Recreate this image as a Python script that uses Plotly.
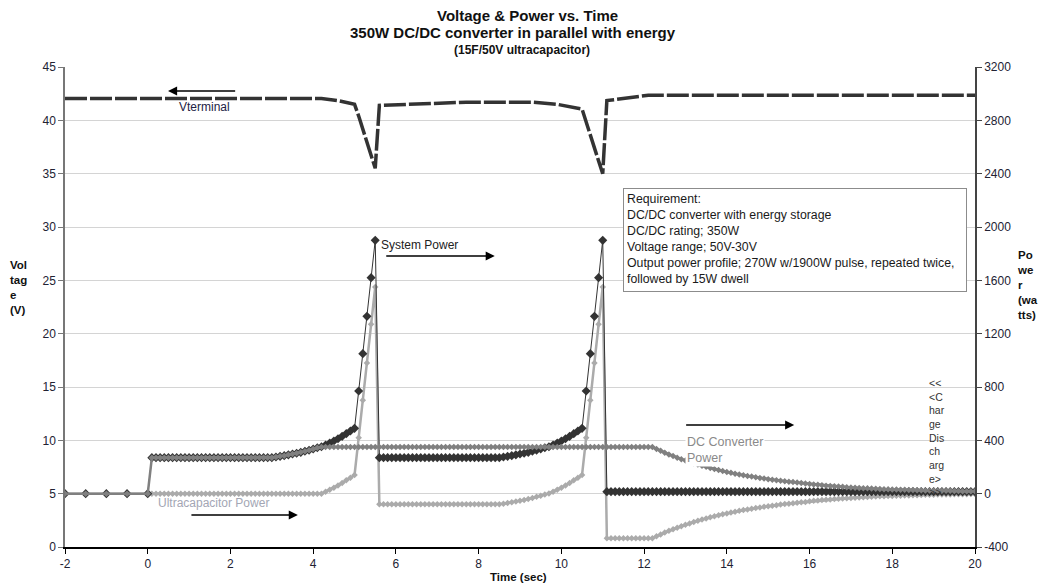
import plotly.graph_objects as go

# ---------------- data ----------------
TIME = [
    -2.0, -1.5, -1.0, -0.5,
    0.0, 0.1, 0.2, 0.3, 0.4, 0.5, 0.6, 0.7, 0.8, 0.9,
    1.0, 1.1, 1.2, 1.3, 1.4, 1.5, 1.6, 1.7, 1.8, 1.9,
    2.0, 2.1, 2.2, 2.3, 2.4, 2.5, 2.6, 2.7, 2.8, 2.9,
    3.0, 3.1, 3.2, 3.3, 3.4, 3.5, 3.6, 3.7, 3.8, 3.9,
    4.0, 4.1, 4.2, 4.3, 4.4, 4.5, 4.6, 4.7, 4.8, 4.9,
    5.0, 5.1, 5.2, 5.3, 5.4, 5.5, 5.6, 5.7, 5.8, 5.9,
    6.0, 6.1, 6.2, 6.3, 6.4, 6.5, 6.6, 6.7, 6.8, 6.9,
    7.0, 7.1, 7.2, 7.3, 7.4, 7.5, 7.6, 7.7, 7.8, 7.9,
    8.0, 8.1, 8.2, 8.3, 8.4, 8.5, 8.6, 8.7, 8.8, 8.9,
    9.0, 9.1, 9.2, 9.3, 9.4, 9.5, 9.6, 9.7, 9.8, 9.9,
    10.0, 10.1, 10.2, 10.3, 10.4, 10.5, 10.6, 10.7, 10.8, 10.9,
    11.0, 11.1, 11.2, 11.3, 11.4, 11.5, 11.6, 11.7, 11.8, 11.9,
    12.0, 12.1, 12.2, 12.3, 12.4, 12.5, 12.6, 12.7, 12.8, 12.9,
    13.0, 13.1, 13.2, 13.3, 13.4, 13.5, 13.6, 13.7, 13.8, 13.9,
    14.0, 14.1, 14.2, 14.3, 14.4, 14.5, 14.6, 14.7, 14.8, 14.9,
    15.0, 15.1, 15.2, 15.3, 15.4, 15.5, 15.6, 15.7, 15.8, 15.9,
    16.0, 16.1, 16.2, 16.3, 16.4, 16.5, 16.6, 16.7, 16.8, 16.9,
    17.0, 17.1, 17.2, 17.3, 17.4, 17.5, 17.6, 17.7, 17.8, 17.9,
    18.0, 18.1, 18.2, 18.3, 18.4, 18.5, 18.6, 18.7, 18.8, 18.9,
    19.0, 19.1, 19.2, 19.3, 19.4, 19.5, 19.6, 19.7, 19.8, 19.9,
    20.0,
]

SYSTEM_W = [
    0, 0, 0, 0,
    0, 270, 270, 270, 270, 270, 270, 270, 270, 270,
    270, 270, 270, 270, 270, 270, 270, 270, 270, 270,
    270, 270, 270, 270, 270, 270, 270, 270, 270, 270,
    270, 275, 280, 285, 291, 297, 303, 310, 318, 326,
    335, 344, 352, 365, 380, 395, 412, 430, 450, 470,
    490, 770, 1050, 1330, 1620, 1900, 270, 270, 270, 270,
    270, 270, 270, 270, 270, 270, 270, 270, 270, 270,
    270, 270, 270, 270, 270, 270, 270, 270, 270, 270,
    270, 270, 270, 270, 270, 270, 275, 280, 285, 291,
    297, 303, 310, 318, 326, 335, 344, 352, 365, 380,
    395, 412, 430, 450, 470, 490, 770, 1050, 1330, 1620,
    1900, 15, 15, 15, 15, 15, 15, 15, 15, 15,
    15, 15, 15, 15, 15, 15, 15, 15, 15, 15,
    15, 15, 15, 15, 15, 15, 15, 15, 15, 15,
    15, 15, 15, 15, 15, 15, 15, 15, 15, 15,
    15, 15, 15, 15, 15, 15, 15, 15, 15, 15,
    15, 15, 15, 15, 15, 15, 15, 15, 15, 15,
    15, 15, 15, 15, 15, 15, 15, 15, 15, 15,
    15, 15, 15, 15, 15, 15, 15, 15, 15, 15,
    15, 15, 15, 15, 15, 15, 15, 15, 15, 15,
    15,
]

DC_CONVERTER_W = [
    0, 0, 0, 0,
    0, 270, 270, 270, 270, 270, 270, 270, 270, 270,
    270, 270, 270, 270, 270, 270, 270, 270, 270, 270,
    270, 270, 270, 270, 270, 270, 270, 270, 270, 270,
    270, 275, 280, 285, 291, 297, 303, 310, 318, 326,
    335, 344, 350, 350, 350, 350, 350, 350, 350, 350,
    350, 350, 350, 350, 350, 350, 350, 350, 350, 350,
    350, 350, 350, 350, 350, 350, 350, 350, 350, 350,
    350, 350, 350, 350, 350, 350, 350, 350, 350, 350,
    350, 350, 350, 350, 350, 350, 350, 350, 350, 350,
    350, 350, 350, 350, 350, 350, 350, 350, 350, 350,
    350, 350, 350, 350, 350, 350, 350, 350, 350, 350,
    350, 350, 350, 350, 350, 350, 350, 350, 350, 350,
    350, 350, 350, 335, 321, 307, 294, 282, 270, 259,
    248, 238, 228, 218, 209, 201, 192, 185, 177, 170,
    163, 156, 150, 144, 138, 133, 128, 123, 118, 113,
    109, 105, 101, 97, 93, 90, 87, 83, 80, 77,
    72, 69, 66, 63, 60, 58, 55, 53, 51, 49,
    47, 45, 43, 41, 40, 38, 37, 35, 34, 33,
    32, 31, 30, 29, 28, 27, 26, 25, 24, 24,
    23, 22, 22, 21, 21, 20, 20, 19, 19, 18,
    18,
]

ULTRACAP_W = [
    0, 0, 0, 0,
    0, 0, 0, 0, 0, 0, 0, 0, 0, 0,
    0, 0, 0, 0, 0, 0, 0, 0, 0, 0,
    0, 0, 0, 0, 0, 0, 0, 0, 0, 0,
    0, 0, 0, 0, 0, 0, 0, 0, 0, 0,
    0, 0, 0, 15, 30, 45, 62, 80, 100, 120,
    140, 420, 700, 980, 1270, 1550, -80, -80, -80, -80,
    -80, -80, -80, -80, -80, -80, -80, -80, -80, -80,
    -80, -80, -80, -80, -80, -80, -80, -80, -80, -80,
    -80, -80, -80, -80, -80, -80, -75, -70, -65, -59,
    -53, -47, -40, -32, -24, -15, -6, 2, 15, 30,
    45, 62, 80, 100, 120, 140, 420, 700, 980, 1270,
    1550, -335, -335, -335, -335, -335, -335, -335, -335, -335,
    -335, -335, -335, -320, -306, -292, -279, -267, -255, -244,
    -233, -223, -213, -203, -194, -186, -177, -170, -162, -155,
    -148, -141, -135, -129, -123, -118, -113, -108, -103, -98,
    -94, -90, -86, -82, -78, -75, -72, -68, -65, -62,
    -57, -54, -51, -48, -45, -43, -40, -38, -36, -34,
    -32, -30, -28, -26, -25, -23, -22, -20, -19, -18,
    -17, -16, -15, -14, -13, -12, -11, -10, -9, -9,
    -8, -7, -7, -6, -6, -5, -5, -4, -4, -3,
    -3,
]

VT_TIME = [-2.0, 4.2, 4.6, 5.0, 5.1, 5.2, 5.3, 5.4, 5.5, 5.6, 6.5, 7.7, 9.3,
           9.9, 10.5, 10.6, 10.7, 10.8, 10.9, 11.0, 11.1, 12.1, 20.0]
VTERMINAL_V = [42.05, 42.05, 41.85, 41.5, 40.4, 39.2, 38.0, 36.8, 35.5, 41.4,
               41.55, 41.7, 41.7, 41.5, 41.05, 39.9, 38.7, 37.5, 36.2, 35.0,
               41.85, 42.35, 42.35]

VOLT_TICKS = [0, 5, 10, 15, 20, 25, 30, 35, 40, 45]
POWER_TICKS = [-400, 0, 400, 800, 1200, 1600, 2000, 2400, 2800, 3200]
POWER_TICK_TEXT = ["-400", "0", "400", "800", "1200", "1600", "2000", "2400", "2800", "3200"]
TIME_TICKS = [-2, 0, 2, 4, 6, 8, 10, 12, 14, 16, 18, 20]
TIME_TICK_TEXT = ["-2", "0", "2", "4", "6", "8", "10", "12", "14", "16", "18", "20"]

REQ_TEXT = ("Requirement:<br>DC/DC converter with energy storage<br>"
            "DC/DC rating; 350W<br>Voltage range; 50V-30V<br>"
            "Output power profile; 270W w/1900W pulse, repeated twice,<br>"
            "followed by 15W dwell")

FONT = "Liberation Sans, Arial, sans-serif"

# ---------------- figure ----------------
fig = go.Figure()

fig.add_trace(go.Scatter(
    x=VT_TIME, y=VTERMINAL_V, mode="lines", yaxis="y",
    line=dict(color="#333333", width=3.5, dash="22px,3px"), hoverinfo="skip"))

fig.add_trace(go.Scatter(
    x=TIME, y=ULTRACAP_W, mode="lines+markers", yaxis="y2",
    line=dict(color="#ababab", width=2.5),
    marker=dict(symbol="diamond", size=5, color="#ababab")))

fig.add_trace(go.Scatter(
    x=TIME, y=SYSTEM_W, mode="lines+markers", yaxis="y2",
    line=dict(color="#333333", width=1),
    marker=dict(symbol="diamond", size=7, color="#333333")))

fig.add_trace(go.Scatter(
    x=TIME, y=DC_CONVERTER_W, mode="lines+markers", yaxis="y2",
    line=dict(color="#808080", width=2.5),
    marker=dict(symbol="diamond", size=5, color="#808080")))

ann = []


def arrow(x_tail, x_head, yv):
    ann.append(dict(x=x_head, y=yv, ax=x_tail, ay=yv, xref="x", yref="y",
                    axref="x", ayref="y", text="", showarrow=True,
                    arrowhead=2, arrowsize=1.3, arrowwidth=1.4,
                    arrowcolor="#000000"))


arrow(2.15, 0.49, 42.75)
arrow(5.73, 8.39, 27.28)
arrow(1.02, 3.63, 3.0)
arrow(12.98, 15.63, 11.44)


def label(text, xv, yv, color, size=12, bg=None, anchor="left"):
    d = dict(x=xv, y=yv, xref="x", yref="y", text=text, showarrow=False,
             xanchor=anchor, yanchor="middle", align="left",
             font=dict(family=FONT, size=size, color=color))
    if bg:
        d["bgcolor"] = bg
    ann.append(d)


label("Vterminal", 0.70, 41.25, "#222244")
label("System Power", 5.60, 28.3, "#222222")
label("Ultracapacitor Power", 0.20, 4.12, "#a3a6b4")
label("DC Converter<br>Power", 13.0, 9.1, "#8a8a8a", size=12.5, bg="white")
label("<<<br><C<br>har<br>ge<br>Dis<br>ch<br>arg<br>e><br>>>", 18.85, 10.25,
      "#333333", size=10.5)

# requirement box
ann.append(dict(x=11.48, y=33.66, xref="x", yref="y", text=REQ_TEXT,
                showarrow=False, xanchor="left", yanchor="top", align="left",
                valign="top", width=336, height=96, borderpad=3,
                bordercolor="#8c8c8c", borderwidth=1, bgcolor="white",
                font=dict(family=FONT, size=12.3, color="#1a1a1a")))

# titles
ann.append(dict(x=0.508, y=1.108, xref="paper", yref="paper", showarrow=False,
                text="<b>Voltage & Power vs. Time</b>", xanchor="center", yanchor="middle",
                font=dict(family=FONT, size=15, color="#111111")))
ann.append(dict(x=0.492, y=1.071, xref="paper", yref="paper", showarrow=False,
                text="<b>350W DC/DC converter in parallel with energy</b>",
                xanchor="center", yanchor="middle",
                font=dict(family=FONT, size=15, color="#111111")))
ann.append(dict(x=0.502, y=1.035, xref="paper", yref="paper", showarrow=False,
                text="<b>(15F/50V ultracapacitor)</b>", xanchor="center", yanchor="middle",
                font=dict(family=FONT, size=12, color="#111111")))
# axis titles
ann.append(dict(x=-0.063, y=0.54, xref="paper", yref="paper", showarrow=False,
                text="<b>Vol<br>tag<br>e<br>(V)</b>", xanchor="left", yanchor="middle",
                align="left", font=dict(family=FONT, size=11.5, color="#111111")))
ann.append(dict(x=1.044, y=0.546, xref="paper", yref="paper", showarrow=False,
                text="<b>Po<br>we<br>r<br>(wa<br>tts)</b>", xanchor="left",
                yanchor="middle", align="left",
                font=dict(family=FONT, size=11.5, color="#111111")))
ann.append(dict(x=0.498, y=-0.0625, xref="paper", yref="paper", showarrow=False,
                text="<b>Time (sec)</b>", xanchor="center", yanchor="middle",
                font=dict(family=FONT, size=11.5, color="#111111")))

fig.update_layout(
    width=1039, height=585,
    margin=dict(l=65, r=64, t=67, b=38),
    paper_bgcolor="white", plot_bgcolor="white",
    showlegend=False,
    font=dict(family=FONT, size=12, color="#222233"),
    xaxis=dict(range=[-2, 20], tickvals=TIME_TICKS, ticktext=TIME_TICK_TEXT,
               showgrid=False, zeroline=False, showline=True,
               linecolor="#000000", linewidth=1.5, ticks="outside", ticklen=5,
               tickcolor="#000000", tickfont=dict(size=12)),
    yaxis=dict(range=[0, 45], tickvals=VOLT_TICKS, showgrid=True,
               gridcolor="#d4d4d4", gridwidth=1, zeroline=False,
               showline=True, linecolor="#777777", linewidth=1.5,
               ticks="outside", ticklen=5, tickcolor="#777777",
               tickfont=dict(size=12)),
    yaxis2=dict(range=[-400, 3200], tickvals=POWER_TICKS, ticktext=POWER_TICK_TEXT,
                overlaying="y", side="right", showgrid=False, zeroline=False,
                showline=True, linecolor="#444444", linewidth=1.5,
                ticks="outside", ticklen=5, tickcolor="#444444",
                tickfont=dict(size=12)),
    annotations=ann,
)

# remove the default page margin so the 1039x585 figure fills the window exactly
fig.write_html("out.html",
               config={"displayModeBar": False},
               post_script="document.body.style.margin='0px';document.body.style.overflow='hidden';")
